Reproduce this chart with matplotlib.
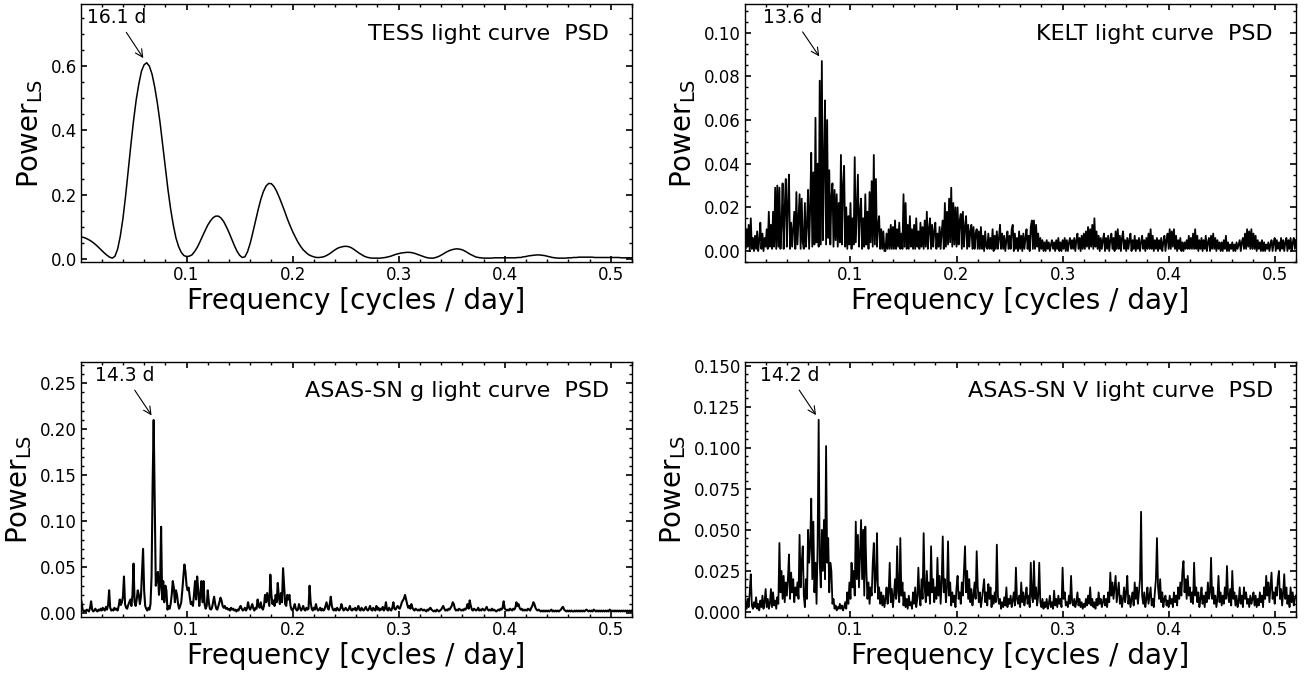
import numpy as np
import matplotlib
matplotlib.use("Agg")
import matplotlib.pyplot as plt
from matplotlib.ticker import AutoMinorLocator

# TESS Lomb-Scargle power, sampled every 0.0025 cycles/day from 0.0
tess_step = 0.0025
tess_power = [
    0.068, 0.067, 0.064, 0.060, 0.055, 0.049, 0.042, 0.034, 0.026, 0.018,
    0.011, 0.005, 0.002, 0.008, 0.030, 0.070, 0.125, 0.195, 0.275, 0.355,
    0.430, 0.495, 0.545, 0.585, 0.605, 0.611, 0.600, 0.575, 0.535, 0.485,
    0.425, 0.355, 0.285, 0.215, 0.155, 0.105, 0.065, 0.038, 0.020, 0.010,
    0.007, 0.008, 0.012, 0.022, 0.035, 0.052, 0.070, 0.088, 0.105, 0.118,
    0.128, 0.133, 0.133, 0.127, 0.116, 0.100, 0.082, 0.062, 0.042, 0.024,
    0.011, 0.004, 0.006, 0.022, 0.048, 0.082, 0.118, 0.153, 0.185, 0.210,
    0.227, 0.235, 0.234, 0.225, 0.210, 0.191, 0.170, 0.148, 0.125, 0.104,
    0.085, 0.068, 0.052, 0.039, 0.028, 0.020, 0.013, 0.009, 0.006, 0.004,
    0.004, 0.005, 0.007, 0.011, 0.016, 0.022, 0.028, 0.033, 0.036, 0.038,
    0.039, 0.038, 0.035, 0.030, 0.024, 0.018, 0.013, 0.008, 0.005, 0.003,
    0.002, 0.002, 0.002, 0.002, 0.003, 0.004, 0.006, 0.008, 0.011, 0.014,
    0.016, 0.018, 0.019, 0.020, 0.020, 0.019, 0.017, 0.014, 0.011, 0.008,
    0.005, 0.003, 0.002, 0.002, 0.004, 0.007, 0.011, 0.016, 0.021, 0.025,
    0.028, 0.030, 0.031, 0.030, 0.028, 0.024, 0.019, 0.014, 0.010, 0.006,
    0.004, 0.003, 0.002, 0.002, 0.002, 0.002, 0.003, 0.003, 0.003, 0.003,
    0.003, 0.003, 0.003, 0.003, 0.003, 0.004, 0.004, 0.006, 0.007, 0.009,
    0.010, 0.011, 0.012, 0.012, 0.011, 0.010, 0.008, 0.006, 0.004, 0.003,
    0.002, 0.002, 0.002, 0.002, 0.003, 0.003, 0.004, 0.004, 0.005, 0.005,
    0.005, 0.005, 0.005, 0.005, 0.004, 0.004, 0.004, 0.004, 0.004, 0.004,
    0.004, 0.004, 0.004, 0.004, 0.003, 0.003, 0.003, 0.003, 0.003,
]

# ground-based periodograms, sampled every 0.001 cycles/day, power x 1e3
fine_step = 0.001
kelt_power_1e3 = [
    15, 1, 10, 2, 12, 0, 15, 1, 6, 0,   7, 1, 9, 0, 5, 13, 1, 8, 0, 6,
    2, 10, 1, 18, 2, 12, 1, 18, 2, 29,   1, 30, 2, 29, 1, 12, 31, 1, 20, 33,
    2, 22, 35, 1, 13, 2, 10, 18, 1, 27,   3, 15, 26, 1, 24, 4, 1, 22, 2, 12,
    28, 1, 20, 45, 2, 36, 3, 61, 4, 40,   2, 78, 3, 87, 5, 40, 69, 3, 60, 6,
    37, 3, 25, 31, 2, 28, 5, 26, 2, 22,   4, 44, 3, 30, 39, 2, 20, 1, 16, 3,
    22, 1, 15, 3, 43, 4, 20, 35, 2, 18,   24, 1, 15, 2, 26, 3, 18, 1, 27, 4,
    32, 2, 44, 3, 33, 2, 12, 16, 1, 10,   1, 9, 0, 0, 8, 1, 10, 1, 12, 1,
    11, 1, 14, 1, 10, 2, 13, 1, 8, 1,   26, 2, 22, 1, 12, 1, 16, 2, 10, 1,
    12, 1, 15, 2, 9, 1, 13, 2, 11, 1,   14, 2, 18, 1, 10, 15, 1, 12, 2, 9,
    13, 1, 8, 2, 11, 1, 9, 14, 1, 22,   2, 18, 3, 24, 4, 29, 2, 22, 3, 20,
    2, 20, 3, 14, 17, 1, 18, 2, 11, 16,   1, 12, 2, 9, 12, 1, 11, 1, 8, 10,
    1, 9, 1, 11, 1, 7, 0, 9, 2, 1,   8, 1, 6, 1, 10, 0, 7, 1, 9, 1,
    6, 12, 1, 8, 1, 7, 0, 5, 9, 1,   7, 1, 10, 12, 0, 8, 1, 6, 0, 9,
    1, 7, 0, 8, 1, 6, 10, 1, 7, 0,   11, 14, 1, 14, 1, 12, 2, 8, 0, 6,
    1, 5, 0, 4, 0, 5, 1, 4, 0, 3,   5, 1, 4, 0, 5, 1, 6, 0, 4, 0,
    5, 1, 6, 0, 5, 0, 4, 6, 1, 5,   1, 6, 0, 5, 8, 1, 6, 0, 7, 1,
    8, 1, 9, 2, 11, 1, 10, 2, 12, 1,   15, 2, 9, 1, 7, 0, 6, 1, 5, 8,
    0, 6, 1, 7, 0, 5, 8, 1, 6, 0,   9, 1, 10, 1, 7, 0, 6, 9, 1, 5,
    0, 6, 1, 5, 8, 0, 5, 1, 7, 0,   5, 1, 6, 0, 4, 7, 1, 5, 0, 6,
    1, 8, 1, 10, 1, 7, 0, 5, 1, 6,   0, 5, 1, 6, 0, 4, 7, 0, 5, 8,
    1, 10, 1, 9, 2, 10, 1, 7, 0, 5,   1, 6, 0, 4, 0, 4, 1, 5, 1, 7,
    1, 6, 1, 8, 1, 10, 1, 7, 0, 5,   1, 6, 0, 5, 1, 7, 0, 4, 6, 0,
    7, 1, 8, 1, 6, 0, 5, 1, 4, 0,   4, 0, 5, 1, 7, 0, 4, 0, 3, 1,
    4, 0, 3, 0, 4, 1, 3, 5, 0, 4,   6, 1, 8, 1, 10, 2, 9, 1, 10, 1,
    8, 1, 7, 0, 5, 1, 4, 0, 5, 0,   4, 0, 3, 1, 4, 0, 3, 5, 0, 4,
    6, 0, 5, 1, 4, 0, 6, 1, 5, 0,   4, 6, 0, 5, 1, 6, 0, 4, 6, 1,
    5,
]
asas_g_power_1e3 = [
    18, 12, 4, 2, 3, 2, 4, 3, 2, 6,   13, 4, 2, 3, 5, 3, 2, 4, 3, 5,
    3, 6, 4, 3, 7, 4, 9, 25, 6, 3,   4, 3, 6, 4, 5, 3, 8, 15, 9, 12,
    18, 40, 10, 6, 5, 9, 12, 15, 8, 20,   54, 12, 8, 15, 25, 20, 10, 18, 45, 70,
    25, 8, 5, 3, 6, 4, 10, 40, 140, 210,   120, 30, 38, 45, 20, 30, 94, 15, 35, 12,
    30, 25, 4, 8, 5, 10, 20, 35, 28, 12,   25, 20, 10, 5, 8, 12, 25, 40, 53, 45,
    30, 25, 28, 18, 10, 12, 8, 20, 35, 15,   40, 25, 8, 20, 35, 12, 35, 10, 5, 8,
    25, 12, 5, 4, 6, 12, 18, 10, 5, 4,   8, 12, 17, 14, 8, 6, 8, 5, 6, 4,
    5, 3, 6, 4, 5, 3, 4, 2, 4, 3,   6, 8, 5, 3, 4, 6, 3, 5, 12, 6,
    4, 7, 10, 5, 3, 6, 5, 15, 8, 6,   12, 6, 4, 8, 20, 12, 22, 15, 8, 42,
    20, 10, 14, 8, 20, 12, 33, 18, 10, 22,   12, 49, 30, 10, 8, 20, 15, 20, 8, 4,
    3, 6, 10, 5, 3, 4, 10, 6, 3, 5,   8, 4, 3, 6, 4, 5, 30, 12, 5, 3,
    6, 4, 10, 5, 3, 4, 6, 3, 5, 3,   4, 8, 12, 6, 4, 10, 18, 8, 4, 3,
    5, 3, 6, 4, 3, 5, 10, 6, 3, 4,   6, 4, 3, 5, 8, 4, 3, 5, 4, 6,
    3, 5, 8, 4, 3, 6, 4, 3, 5, 7,   4, 3, 5, 8, 4, 3, 6, 4, 3, 8,
    4, 6, 3, 5, 4, 7, 3, 5, 12, 4,   3, 6, 4, 3, 6, 12, 5, 4, 6, 8,
    6, 5, 8, 12, 14, 16, 20, 15, 10, 6,   8, 5, 10, 6, 4, 3, 5, 4, 3, 4,
    3, 5, 4, 3, 4, 3, 2, 4, 3, 5,   6, 4, 3, 2, 3, 2, 4, 3, 2, 3,
    4, 6, 8, 5, 3, 4, 3, 5, 4, 6,   8, 12, 10, 5, 3, 4, 3, 5, 4, 3,
    4, 3, 5, 4, 6, 10, 5, 14, 8, 4,   3, 5, 4, 3, 4, 6, 3, 4, 3, 5,
    4, 3, 5, 7, 4, 3, 4, 3, 5, 3,   4, 3, 2, 3, 4, 3, 5, 4, 6, 13,
    5, 4, 3, 4, 3, 5, 4, 3, 5, 4,   6, 12, 8, 10, 6, 4, 5, 3, 4, 3,
    4, 3, 5, 4, 3, 6, 8, 12, 10, 6,   4, 3, 4, 3, 2, 3, 2, 3, 2, 3,
    2, 3, 2, 3, 4, 2, 3, 2, 3, 2,   3, 2, 3, 4, 6, 7, 4, 3, 2, 3,
    2, 3, 2, 3, 2, 2, 3, 2, 3, 2,   3, 2, 3, 2, 3, 2, 3, 4, 3, 2,
    3, 2, 3, 2, 4, 3, 2, 3, 2, 3,   2, 3, 2, 3, 2, 3, 2, 3, 2, 4,
    3, 2, 3, 2, 3, 2, 3, 2, 3, 2,   3, 2, 3, 2, 3, 2, 3, 2, 3, 2,
    3,
]
asas_v_power_1e3 = [
    17, 5, 2, 8, 3, 12, 23, 4, 2, 6,   3, 9, 2, 5, 1, 7, 3, 10, 2, 6,
    14, 3, 8, 2, 5, 14, 3, 12, 4, 7,   2, 9, 5, 42, 12, 25, 8, 22, 6, 18,
    10, 20, 35, 8, 24, 12, 20, 6, 15, 10,   18, 8, 47, 15, 30, 40, 10, 3, 20, 8,
    50, 30, 40, 69, 20, 55, 12, 30, 5, 40,   117, 30, 15, 50, 25, 56, 20, 101, 30, 45,
    12, 30, 25, 5, 8, 2, 4, 1, 3, 2,   5, 2, 4, 1, 3, 6, 2, 12, 5, 18,
    8, 30, 15, 25, 10, 55, 20, 47, 15, 35,   56, 20, 50, 10, 52, 25, 8, 18, 5, 15,
    10, 30, 42, 12, 20, 48, 8, 15, 5, 12,   4, 10, 3, 8, 15, 5, 12, 30, 6, 14,
    3, 10, 20, 8, 40, 12, 6, 45, 10, 18,   4, 12, 3, 8, 2, 10, 4, 6, 2, 12,
    5, 15, 3, 8, 27, 10, 4, 20, 8, 48,   15, 6, 25, 10, 18, 5, 40, 12, 20, 6,
    15, 8, 33, 10, 22, 5, 18, 46, 12, 20,   6, 15, 43, 10, 18, 4, 12, 6, 10, 3,
    15, 22, 8, 12, 5, 18, 10, 25, 40, 12,   25, 8, 20, 6, 14, 4, 10, 18, 8, 37,
    15, 6, 12, 3, 8, 14, 20, 6, 12, 4,   17, 8, 15, 3, 10, 5, 12, 6, 41, 10,
    5, 8, 2, 6, 3, 9, 4, 15, 3, 8,   5, 10, 3, 7, 12, 4, 27, 8, 5, 10,
    3, 18, 6, 12, 4, 9, 15, 5, 10, 3,   30, 10, 6, 31, 8, 15, 4, 10, 30, 6,
    3, 8, 2, 6, 3, 8, 2, 5, 10, 3,   6, 2, 13, 4, 8, 3, 10, 5, 8, 3,
    27, 8, 12, 4, 6, 3, 10, 5, 22, 6,   4, 8, 3, 6, 12, 4, 8, 3, 6, 2,
    5, 3, 8, 4, 10, 5, 15, 4, 8, 3,   6, 2, 8, 4, 12, 5, 8, 3, 6, 10,
    4, 8, 3, 12, 6, 24, 10, 18, 8, 15,   22, 6, 12, 18, 5, 10, 3, 8, 15, 6,
    12, 22, 5, 10, 3, 8, 12, 4, 18, 8,   15, 5, 12, 20, 61, 10, 5, 12, 3, 8,
    15, 5, 10, 15, 4, 8, 3, 12, 20, 45,   15, 8, 20, 6, 12, 3, 8, 10, 4, 7,
    3, 10, 5, 8, 3, 12, 6, 10, 4, 15,   8, 18, 10, 25, 31, 12, 20, 8, 22, 10,
    15, 6, 12, 5, 30, 10, 15, 6, 12, 3,   8, 15, 5, 10, 3, 12, 6, 18, 8, 12,
    33, 8, 15, 5, 10, 3, 8, 22, 6, 12,   4, 10, 5, 15, 8, 28, 10, 6, 14, 4,
    25, 8, 12, 4, 10, 3, 6, 15, 5, 10,   3, 15, 8, 12, 5, 8, 3, 10, 5, 8,
    12, 4, 10, 3, 8, 4, 12, 6, 10, 3,   15, 8, 22, 10, 18, 6, 15, 24, 8, 12,
    5, 15, 10, 20, 25, 8, 14, 4, 12, 23,   8, 15, 5, 10, 3, 15, 6, 12, 4, 8,
    10,
]

panel_labels = ["TESS light curve  PSD", "KELT light curve  PSD",
                "ASAS-SN g light curve  PSD", "ASAS-SN V light curve  PSD"]
peak_periods = [16.1, 13.6, 14.3, 14.2]   # days
y_floor = [-0.01, -0.005, -0.004, -0.003]

tess_freq = np.arange(len(tess_power)) * tess_step
fine_freq = np.arange(len(kelt_power_1e3)) * fine_step

series = [
    (tess_freq, np.array(tess_power), 1.1),
    (fine_freq, np.array(kelt_power_1e3) * 1e-3, 1.3),
    (fine_freq, np.array(asas_g_power_1e3) * 1e-3, 1.5),
    (fine_freq, np.array(asas_v_power_1e3) * 1e-3, 1.3),
]

fig = plt.figure(figsize=(13.09, 6.78), dpi=100)
positions = [
    [0.0619, 0.6136, 0.4209, 0.3805],
    [0.5691, 0.6136, 0.4209, 0.3805],
    [0.0619, 0.0900, 0.4209, 0.3760],
    [0.5691, 0.0900, 0.4209, 0.3760],
]

for pos, (freq, power, lw), label, period, ybot in zip(
        positions, series, panel_labels, peak_periods, y_floor):
    ax = fig.add_axes(pos)
    ax.plot(freq, power, color="k", lw=lw)

    f_peak = 1.0 / period
    p_peak = power.max()
    ax.set_xlim(0.0005, 0.52)
    ax.set_ylim(ybot, 1.3 * p_peak)

    ax.annotate(f"{period:.1f} d", xy=(f_peak, p_peak),
                xytext=(f_peak - 0.028, 1.23 * p_peak),
                ha="center", va="center", fontsize=13.5,
                arrowprops=dict(arrowstyle="->", color="k", lw=0.8, shrinkB=4))
    ax.text(0.958, 0.885, label, transform=ax.transAxes,
            ha="right", va="center", fontsize=16)

    ax.set_xlabel("Frequency [cycles / day]", fontsize=20, labelpad=2)
    ax.set_ylabel(r"Power$_{\rm LS}$", fontsize=20, labelpad=4)
    ax.xaxis.set_minor_locator(AutoMinorLocator())
    ax.yaxis.set_minor_locator(AutoMinorLocator())
    ax.tick_params(which="both", direction="in", top=True, right=True,
                   labelsize=12, pad=3)
    ax.tick_params(which="major", length=4.5, width=1.2)
    ax.tick_params(which="minor", length=2.5, width=1.0)
    for sp in ax.spines.values():
        sp.set_linewidth(1.0)

fig.savefig("out.png", dpi=100)
